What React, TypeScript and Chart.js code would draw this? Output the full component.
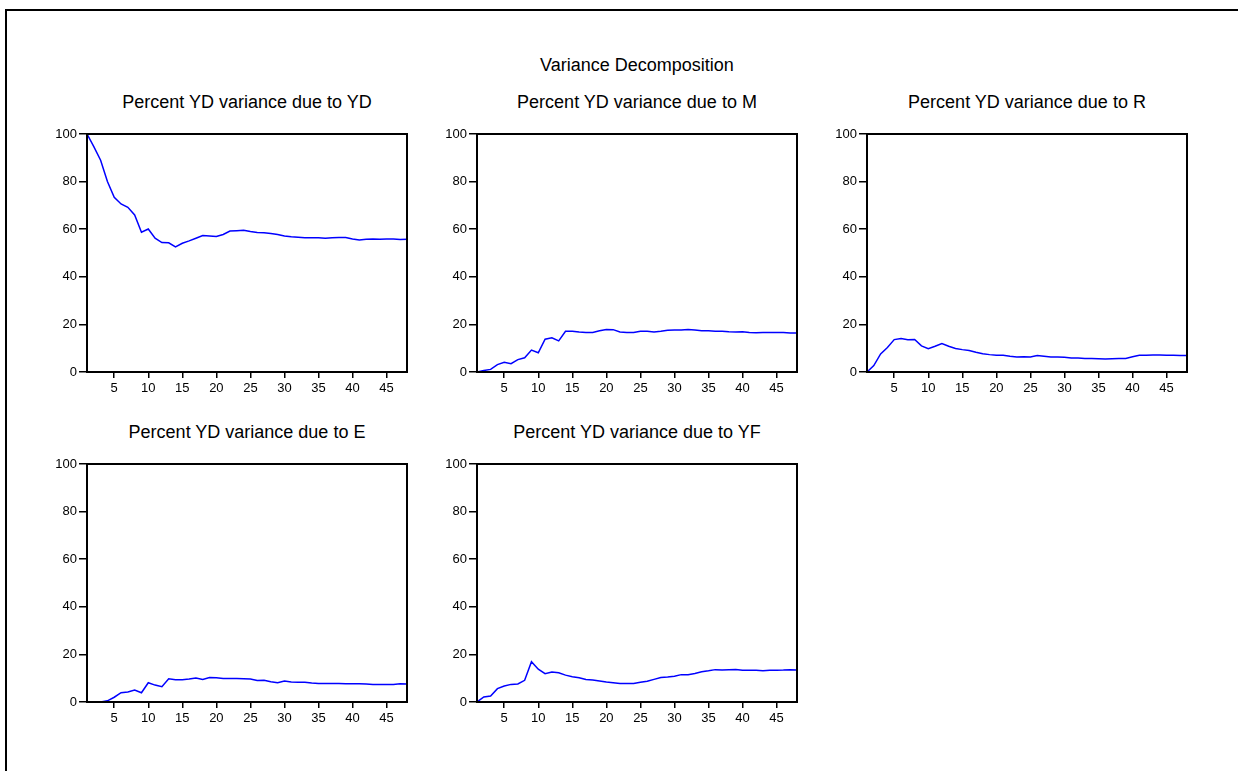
import React, { useEffect, useRef } from "react";
import { Chart, registerables } from "chart.js";

Chart.register(...registerables);

const PERIODS = [
  1, 2, 3, 4, 5, 6, 7, 8, 9, 10, 11, 12, 13, 14, 15, 16, 17, 18, 19, 20, 21, 22, 23, 24,
  25, 26, 27, 28, 29, 30, 31, 32, 33, 34, 35, 36, 37, 38, 39, 40, 41, 42, 43, 44, 45, 46, 47, 48,
];
const X_TICKS = [5, 10, 15, 20, 25, 30, 35, 40, 45];
const Y_TICKS = [0, 20, 40, 60, 80, 100];

const MAIN_TITLE = "Variance Decomposition";
const PANEL_TITLES = [
  "Percent YD variance due to YD",
  "Percent YD variance due to M",
  "Percent YD variance due to R",
  "Percent YD variance due to E",
  "Percent YD variance due to YF",
];

const DUE_TO_YD = [
  100, 94.7, 89, 80, 73.4, 70.6, 69.2, 66, 58.7, 60.1, 56.2, 54.4, 54.3, 52.6, 54.1, 55.1,
  56.2, 57.3, 57.1, 56.9, 57.8, 59.2, 59.4, 59.6, 59.0, 58.6, 58.5, 58.2, 57.8, 57.1, 56.8, 56.6,
  56.4, 56.4, 56.4, 56.2, 56.4, 56.5, 56.5, 55.9, 55.5, 55.8, 55.9, 55.8, 55.9, 55.9, 55.7, 55.8,
];
const DUE_TO_M = [
  0, 0.6, 1.1, 3.1, 4.1, 3.5, 5.2, 6.0, 9.2, 8.1, 13.8, 14.4, 13.1, 17.1, 17.1, 16.8,
  16.6, 16.6, 17.3, 17.9, 17.8, 16.8, 16.6, 16.6, 17.1, 17.1, 16.8, 17.1, 17.5, 17.6, 17.6, 17.9,
  17.6, 17.3, 17.3, 17.1, 17.1, 16.9, 16.8, 16.9, 16.6, 16.5, 16.6, 16.6, 16.6, 16.6, 16.4, 16.4,
];
const DUE_TO_R = [
  0, 2.7, 7.6, 10.3, 13.6, 14.1, 13.6, 13.7, 11.0, 9.8, 10.8, 12.0, 10.8, 9.9, 9.4, 9.0,
  8.3, 7.7, 7.3, 7.0, 7.0, 6.6, 6.3, 6.4, 6.3, 6.9, 6.6, 6.3, 6.3, 6.2, 5.9, 5.9,
  5.7, 5.7, 5.6, 5.5, 5.6, 5.7, 5.7, 6.4, 7.0, 7.0, 7.1, 7.1, 7.0, 7.0, 6.9, 6.9,
];
const DUE_TO_E = [
  0, 0, 0, 0.5, 2.0, 3.9, 4.2, 5.0, 3.9, 8.1, 7.1, 6.4, 9.8, 9.4, 9.4, 9.7,
  10.1, 9.5, 10.3, 10.2, 9.9, 9.9, 9.9, 9.8, 9.7, 9.0, 9.1, 8.5, 8.1, 8.8, 8.4, 8.3,
  8.3, 8.0, 7.8, 7.8, 7.8, 7.8, 7.7, 7.7, 7.7, 7.6, 7.4, 7.4, 7.4, 7.4, 7.7, 7.6,
];
const DUE_TO_YF = [
  0, 2.1, 2.5, 5.6, 6.7, 7.4, 7.6, 9.1, 16.9, 13.8, 11.9, 12.6, 12.3, 11.3, 10.6, 10.2,
  9.5, 9.2, 8.8, 8.4, 8.1, 7.8, 7.8, 7.8, 8.3, 8.7, 9.5, 10.3, 10.5, 10.8, 11.5, 11.5,
  12.0, 12.7, 13.1, 13.6, 13.4, 13.6, 13.7, 13.3, 13.3, 13.3, 13.1, 13.3, 13.3, 13.4, 13.6, 13.4,
];

const SERIES = [DUE_TO_YD, DUE_TO_M, DUE_TO_R, DUE_TO_E, DUE_TO_YF];

const FONT = '"Liberation Sans", Arial, sans-serif';
const PLOT_W = 320;
const PLOT_H = 238;
const M_L = 60;
const M_T = 10;
const M_R = 10;
const M_B = 40;

const PANEL_POS = [
  { left: 87, top: 134 },
  { left: 477, top: 134 },
  { left: 867, top: 134 },
  { left: 87, top: 464 },
  { left: 477, top: 464 },
];

const boxPlugin = {
  id: "plotBox",
  afterDraw(chart: any) {
    const { ctx, chartArea } = chart;
    ctx.save();
    ctx.strokeStyle = "#000";
    ctx.lineWidth = 2;
    ctx.strokeRect(chartArea.left, chartArea.top, chartArea.right - chartArea.left, chartArea.bottom - chartArea.top);
    ctx.restore();
  },
};

function Panel({ idx }: { idx: number }) {
  const ref = useRef<HTMLCanvasElement | null>(null);
  useEffect(() => {
    if (!ref.current) return;
    const values = SERIES[idx];
    const chart = new Chart(ref.current, {
      type: "line",
      data: {
        datasets: [
          {
            data: PERIODS.map((p, i) => ({ x: p, y: values[i] })),
            borderColor: "#0000ff",
            borderWidth: 1.5,
            pointRadius: 0,
            tension: 0,
            fill: false,
          },
        ],
      },
      options: {
        animation: false,
        responsive: false,
        maintainAspectRatio: false,
        events: [],
        layout: { padding: { left: 0, top: M_T, right: M_R, bottom: 0 } },
        plugins: { legend: { display: false }, tooltip: { enabled: false }, title: { display: false } },
        scales: {
          x: {
            type: "linear",
            min: PERIODS[0],
            max: PERIODS[PERIODS.length - 1],
            afterBuildTicks: (s: any) => {
              s.ticks = X_TICKS.map((v) => ({ value: v }));
            },
            afterFit: (s: any) => {
              s.height = M_B;
            },
            border: { display: false },
            grid: { display: true, drawOnChartArea: false, drawTicks: true, tickLength: 6, color: "#000", lineWidth: 1.5 },
            ticks: { color: "#000", font: { family: FONT, size: 13 }, padding: 3, maxRotation: 0, autoSkip: false },
          },
          y: {
            type: "linear",
            min: 0,
            max: 100,
            afterBuildTicks: (s: any) => {
              s.ticks = Y_TICKS.map((v) => ({ value: v }));
            },
            afterFit: (s: any) => {
              s.width = M_L;
            },
            border: { display: false },
            grid: { display: true, drawOnChartArea: false, drawTicks: true, tickLength: 8, color: "#000", lineWidth: 1.5 },
            ticks: { color: "#000", font: { family: FONT, size: 13 }, padding: 2, autoSkip: false },
          },
        },
      },
      plugins: [boxPlugin],
    });
    return () => chart.destroy();
  }, [idx]);
  const pos = PANEL_POS[idx];
  const w = M_L + PLOT_W + M_R;
  const h = M_T + PLOT_H + M_B;
  return (
    <>
      <div
        style={{
          position: "absolute",
          left: pos.left + PLOT_W / 2 - 200,
          width: 400,
          top: pos.top - 41.5,
          textAlign: "center",
          font: `18px ${FONT}`,
          lineHeight: "18px",
          color: "#000",
          whiteSpace: "nowrap",
        }}
      >
        {PANEL_TITLES[idx]}
      </div>
      <canvas
        ref={ref}
        width={w}
        height={h}
        style={{ position: "absolute", left: pos.left - M_L, top: pos.top - M_T, width: w, height: h }}
      />
    </>
  );
}

export default function App() {
  return (
    <div
      style={{
        position: "absolute",
        left: 0,
        top: 0,
        width: 1238,
        height: 771,
        overflow: "hidden",
        background: "#fff",
      }}
    >
      <div
        style={{
          position: "absolute",
          left: 5,
          top: 9,
          width: 1400,
          height: 1000,
          borderTop: "2px solid #000",
          borderLeft: "2px solid #000",
        }}
      />
      <div
        style={{
          position: "absolute",
          left: 437,
          width: 400,
          top: 55.5,
          textAlign: "center",
          font: `18px ${FONT}`,
          lineHeight: "18px",
          color: "#000",
          whiteSpace: "nowrap",
        }}
      >
        {MAIN_TITLE}
      </div>
      {[0, 1, 2, 3, 4].map((i) => (
        <Panel key={i} idx={i} />
      ))}
    </div>
  );
}
